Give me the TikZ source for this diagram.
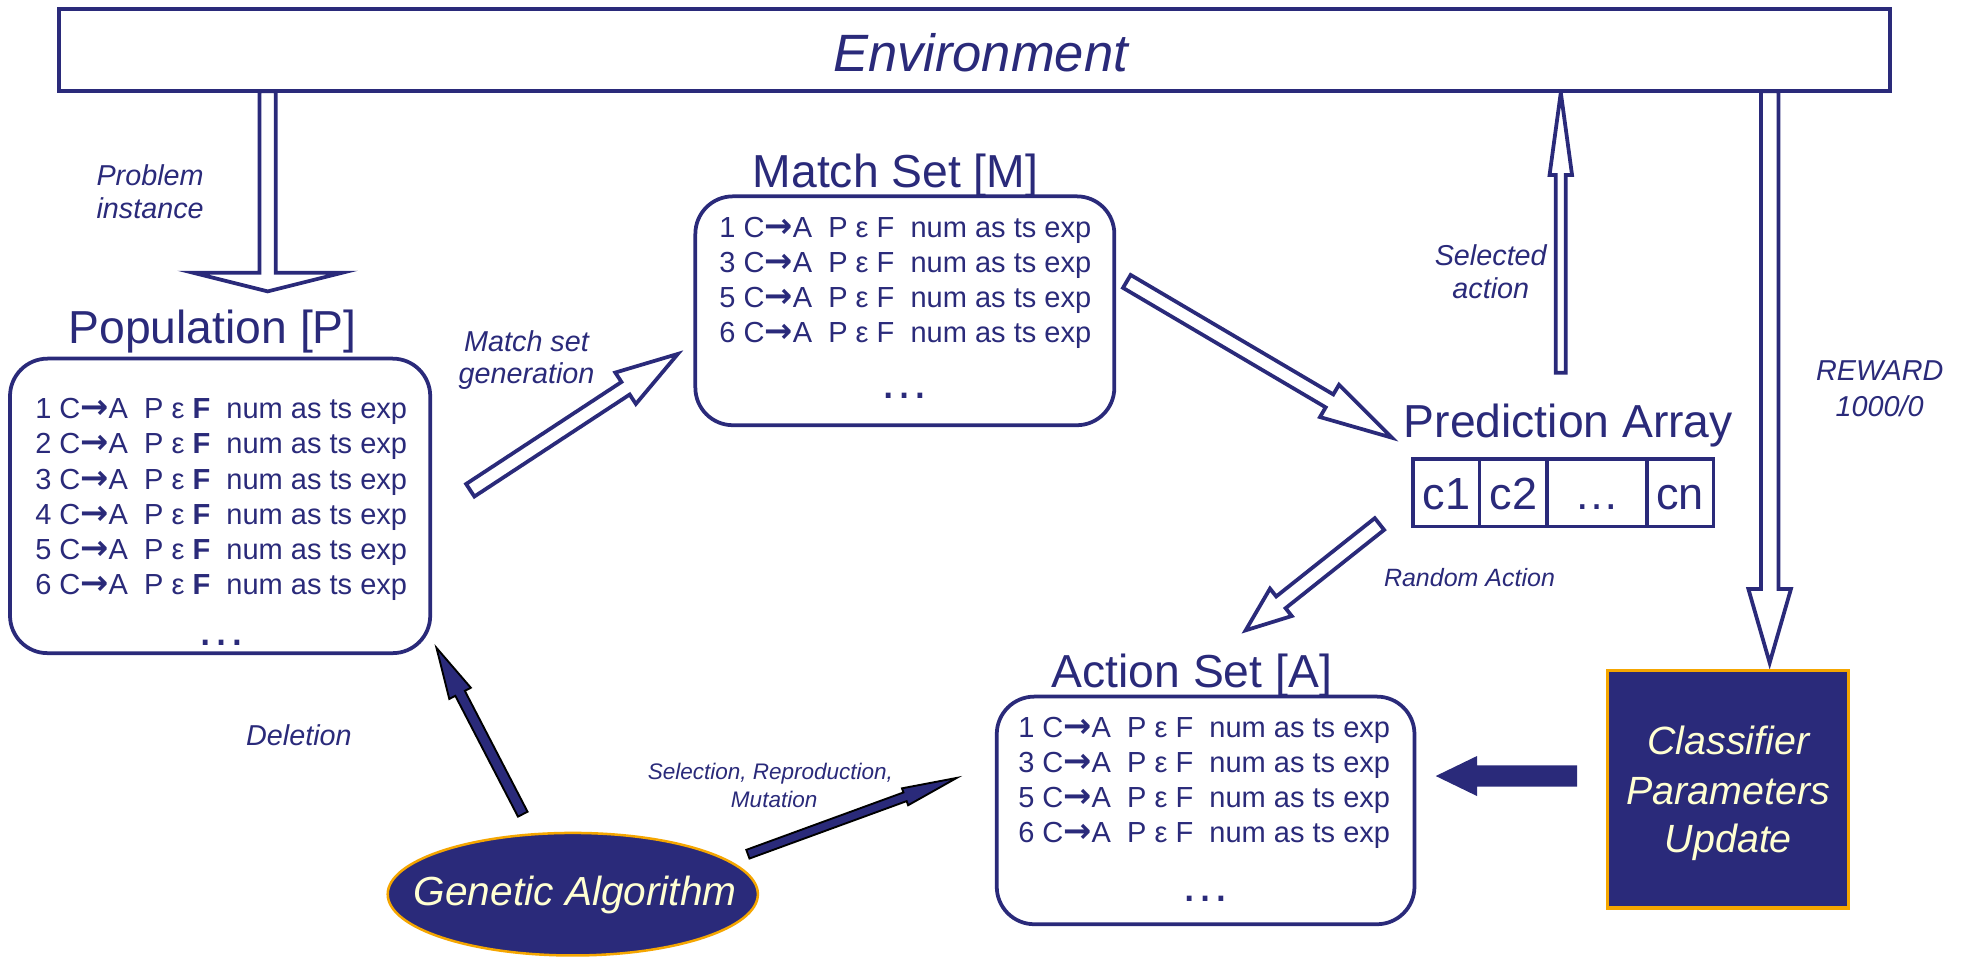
\documentclass[tikz,border=0pt]{standalone}
\usepackage{fontspec}
\setmainfont{Liberation Sans}
\newfontfamily\arrowfont{DejaVu Sans}
\usetikzlibrary{calc,shapes.geometric}

\definecolor{navy}{RGB}{42,42,122}
\definecolor{orangeb}{RGB}{245,166,0}
\definecolor{cream}{RGB}{255,255,210}

% Block arrow between two named points:
% #1 style, #2 tail, #3 tip, #4 shaft half-width, #5 head half-width, #6 head length
\newcommand\blockarrow[6]{%
  \coordinate (#2-#3-b) at ($(#3)!#6!(#2)$);
  \draw[#1] ($(#2)!#4!90:(#3)$) -- ($(#2-#3-b)!#4!-90:(#2)$)
    -- ($(#2-#3-b)!#5!-90:(#2)$) -- (#3) -- ($(#2-#3-b)!#5!90:(#2)$)
    -- ($(#2-#3-b)!#4!90:(#2)$) -- ($(#2)!#4!-90:(#3)$) -- cycle;
}
% Heavy arrow between condition and action
\newcommand\condarrow{{\arrowfont\bfseries\fontsize{27}{28}\selectfont →}}
% One classifier line of a set
\newcommand\clrow[2]{#1 C\condarrow A\hspace{.556em}P ε #2\hspace{.556em}num as ts exp}

\begin{document}
\begin{tikzpicture}[x=1pt,y=-1pt,
  envbox/.style={draw=navy, line width=3pt, fill=white, inner sep=0},
  setbox/.style={draw=navy, line width=3pt, rounded corners=30pt, fill=white, inner sep=0},
  cell/.style={draw=navy, line width=3pt, inner sep=0},
  darkbox/.style={fill=navy, draw=orangeb, line width=2.5pt, inner sep=0},
  gaellipse/.style={ellipse, fill=navy, draw=orangeb, line width=2pt, inner sep=0},
  title/.style={text=navy, font=\fontsize{37}{40}\selectfont, anchor=base, inner sep=0},
  celltext/.style={text=navy, font=\fontsize{36}{40}\selectfont, anchor=base, inner sep=0},
  envtext/.style={text=navy, font=\itshape\fontsize{42}{46}\selectfont, anchor=base, inner sep=0},
  rowtext/.style={text=navy, font=\fontsize{23.2}{28}\selectfont, anchor=base west, inner sep=0},
  dots/.style={text=navy, font=\fontsize{40}{40}\selectfont, anchor=base, inner sep=0},
  lbl/.style={text=navy, font=\itshape\fontsize{23}{27}\selectfont, anchor=base, inner sep=0},
  smalllbl/.style={text=navy, font=\itshape\fontsize{18}{22}\selectfont, anchor=base, inner sep=0},
  midlbl/.style={text=navy, font=\itshape\fontsize{20}{24}\selectfont, anchor=base, inner sep=0},
  lighttext/.style={text=cream, font=\itshape\fontsize{31.5}{38}\selectfont, anchor=base, inner sep=0},
  hollow/.style={draw=navy, line width=3pt, fill=white, line join=miter},
  solidarrow/.style={fill=navy, draw=black, line width=1.5pt, line join=miter},
  flatarrow/.style={fill=navy, draw=none}]

\fill[white] (0,0) rectangle (1568,765);
\useasboundingbox (0,0) rectangle (1568,765);

% ---------- arrow end points ----------
\coordinate (pi-s) at (214,73);
\coordinate (pi-e) at (214,233);
\coordinate (mg-s) at (376,392);
\coordinate (mg-e) at (542,283);
\coordinate (mp-s) at (901,225);
\coordinate (mp-e) at (1113,350);
\coordinate (sa-s) at (1248,298);
\coordinate (sa-e) at (1248,74);
\coordinate (rw-s) at (1415,73);
\coordinate (rw-e) at (1415,530);
\coordinate (ra-s) at (1103,419);
\coordinate (ra-e) at (996,504);
\coordinate (de-s) at (418,651);
\coordinate (de-e) at (349,518);
\coordinate (se-s) at (598,683);
\coordinate (se-e) at (765,622);
\coordinate (cu-s) at (1261,620.5);
\coordinate (cu-e) at (1148,620.5);

% ---------- hollow arrows ----------
\blockarrow{hollow}{pi-s}{pi-e}{6.5pt}{60pt}{15pt}
\blockarrow{hollow}{mg-s}{mg-e}{6pt}{15pt}{50pt}
\blockarrow{hollow}{mp-s}{mp-e}{6pt}{15pt}{58pt}
\blockarrow{hollow}{sa-s}{sa-e}{4pt}{9pt}{66pt}
\blockarrow{hollow}{rw-s}{rw-e}{7pt}{17pt}{59pt}
\blockarrow{hollow}{ra-s}{ra-e}{6pt}{14pt}{36pt}

% ---------- solid arrows ----------
\blockarrow{solidarrow}{de-s}{de-e}{4.3pt}{9.7pt}{41pt}
\blockarrow{solidarrow}{se-s}{se-e}{3.7pt}{7.2pt}{44pt}
\blockarrow{flatarrow}{cu-s}{cu-e}{8.5pt}{16pt}{33pt}

% ---------- environment ----------
\node[envbox, minimum width=1464, minimum height=66] (env) at (779,40) {};
\node[envtext] (env-t) at (784,57) {Environment};

% ---------- population ----------
\node[title] (pop-t) at (170,275) {Population [P]};
\node[setbox, minimum width=336, minimum height=235.5] (pop) at (176,404.5) {};
\foreach \n [count=\i] in {1,...,6}
  \node[rowtext] (pop-r\n) at (28,{335+28*(\i-1)}) {\clrow{\n}{\textbf{F}}};
\node[dots] (pop-d) at (177,516) {…};

% ---------- match set ----------
\node[title] (ms-t) at (716,150) {Match Set [M]};
\node[setbox, minimum width=335, minimum height=183] (ms) at (723.5,248.5) {};
\foreach \n [count=\i] in {1,3,5,6}
  \node[rowtext] (ms-r\n) at (575,{190+28*(\i-1)}) {\clrow{\n}{F}};
\node[dots] (ms-d) at (723,319) {…};

% ---------- action set ----------
\node[title] (as-t) at (953,550) {Action Set [A]};
\node[setbox, minimum width=334, minimum height=182] (as) at (964,648) {};
\foreach \n [count=\i] in {1,3,5,6}
  \node[rowtext] (as-r\n) at (814,{590+28*(\i-1)}) {\clrow{\n}{F}};
\node[dots] (as-d) at (964,721) {…};

% ---------- prediction array ----------
\node[title] (pa-t) at (1254,350) {Prediction Array};
\foreach \nm/\xa/\xb/\t in {c1/1130/1183/c1, c2/1183/1237/c2, cd/1237/1317/…, cn/1317/1370/cn} {
  \node[cell, minimum width={\xb-\xa}, minimum height=54] (pa-\nm) at ({(\xa+\xb)/2},394) {};
  \node[celltext] (pa-\nm-t) at ({(\xa+\xb)/2},407) {\t};
}

% ---------- classifier parameters update ----------
\node[darkbox, minimum width=193, minimum height=190] (cpu) at (1381.5,631) {};
\node[lighttext] (cpu-1) at (1382,603) {Classifier};
\node[lighttext] (cpu-2) at (1382,643) {Parameters};
\node[lighttext] (cpu-3) at (1382,682) {Update};

% ---------- genetic algorithm ----------
\node[gaellipse, minimum width=296, minimum height=98] (ga) at (458,715) {};
\node[lighttext, font=\itshape\fontsize{32.5}{38}\selectfont] (ga-t) at (460,724) {Genetic Algorithm};

% ---------- labels ----------
\node[lbl] (l-pi1) at (120,148) {Problem};
\node[lbl] (l-pi2) at (120,175) {instance};
\node[lbl] (l-mg1) at (421,281) {Match set};
\node[lbl] (l-mg2) at (421,307) {generation};
\node[lbl] (l-sa1) at (1192,212) {Selected};
\node[lbl] (l-sa2) at (1192,239) {action};
\node[lbl] (l-rw1) at (1503,304) {REWARD};
\node[lbl] (l-rw2) at (1503,333) {1000/0};
\node[lbl] (l-de) at (239,596) {Deletion};
\node[midlbl] (l-ra) at (1175,469) {Random Action};
\node[smalllbl] (l-se1) at (616,623) {Selection, Reproduction,};
\node[smalllbl] (l-se2) at (619,646) {Mutation};
\end{tikzpicture}
\end{document}
